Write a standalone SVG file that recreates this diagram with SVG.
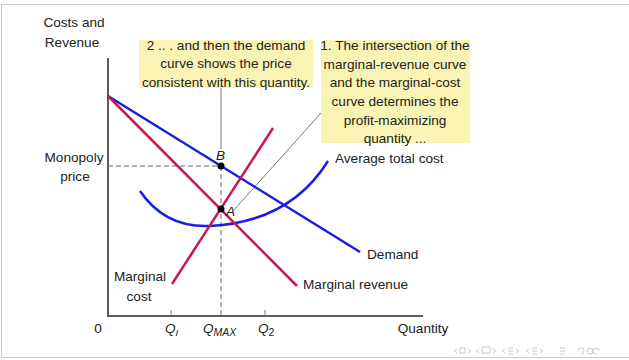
<svg xmlns="http://www.w3.org/2000/svg" width="629" height="360" viewBox="0 0 629 360">
  <style>
    text { font-family: "Liberation Sans", "DejaVu Sans", sans-serif; font-size: 13.6px; fill: #222; }
    .mid { text-anchor: middle; }
    .it { font-style: italic; }
    .axis { stroke: #5a5a5a; stroke-width: 2; fill: none; }
    .blue { stroke: #1c1ce8; stroke-width: 2.5; fill: none; }
    .red { stroke: #c8184c; stroke-width: 2.5; fill: none; }
    .dash { stroke: #666; stroke-width: 1; stroke-dasharray: 5 3; fill: none; }
    .lead { stroke: #555; stroke-width: 0.8; fill: none; }
    .note { fill: #faf4b4; }
    .nav { stroke: #c8c8e0; stroke-width: 1; fill: none; }
  </style>

  <!-- slide frame -->
  <rect x="1.5" y="4.5" width="640" height="353" fill="#fff" stroke="#cccccc" stroke-width="1"/>

  <!-- axes -->
  <g id="axes">
    <path class="axis" d="M108 58 V316 H423"/>
    <line x1="171" y1="310" x2="171" y2="316" stroke="#777" stroke-width="1"/>
    <line x1="265" y1="310" x2="265" y2="316" stroke="#777" stroke-width="1"/>
    <text x="74" y="27" class="mid">Costs and</text>
    <text x="72" y="47" class="mid">Revenue</text>
    <text x="74" y="162" class="mid">Monopoly</text>
    <text x="75" y="181" class="mid">price</text>
    <text x="98" y="333" class="mid">0</text>
    <text x="423" y="333" class="mid">Quantity</text>
    <text x="165" y="333" class="it">Q<tspan font-size="9.5" dy="3">I</tspan></text>
    <text x="203" y="333" class="it">Q<tspan font-size="10.5" dy="3">MAX</tspan></text>
    <text x="258" y="333" class="it">Q<tspan font-size="10.5" dy="3" font-style="normal">2</tspan></text>
  </g>

  <!-- connectors: guide lines and leaders -->
  <g id="connectors">
    <line class="dash" x1="108" y1="166" x2="221" y2="166"/>
    <line class="dash" x1="221" y1="166" x2="221" y2="316"/>
    <line class="lead" x1="221" y1="88" x2="221" y2="149"/>
    <line class="lead" x1="233" y1="211" x2="321" y2="113"/>
  </g>

  <!-- curves -->
  <g id="curve-atc">
    <path class="blue" d="M140 191 Q 165 228 210 226 Q 290 222 328 161"/>
    <text x="335" y="163">Average total cost</text>
  </g>
  <g id="curve-demand">
    <line class="blue" x1="108" y1="96" x2="360" y2="252"/>
    <text x="367" y="259">Demand</text>
  </g>
  <g id="curve-mr">
    <line class="red" x1="108" y1="96" x2="297" y2="286"/>
    <text x="303" y="289">Marginal revenue</text>
  </g>
  <g id="curve-mc">
    <line class="red" x1="172" y1="284" x2="273" y2="128"/>
    <text x="140" y="281" class="mid">Marginal</text>
    <text x="139" y="301" class="mid">cost</text>
  </g>

  <!-- points -->
  <g id="point-b">
    <circle cx="221" cy="166" r="3.5" fill="#000"/>
    <text x="216" y="160" class="it" font-size="14.5">B</text>
  </g>
  <g id="point-a">
    <circle cx="221" cy="209" r="3.5" fill="#000"/>
    <text x="226" y="216" class="it" font-size="14.5">A</text>
  </g>

  <!-- notes -->
  <g id="note-2">
    <rect class="note" x="139" y="40" width="174" height="48"/>
    <text x="226" y="50" class="mid">2 .. . and then the demand</text>
    <text x="226" y="68" class="mid">curve shows the price</text>
    <text x="226" y="87" class="mid">consistent with this quantity.</text>
  </g>
  <g id="note-1">
    <rect class="note" x="321" y="40" width="149" height="103"/>
    <text x="395" y="50" class="mid">1. The intersection of the</text>
    <text x="395" y="69" class="mid">marginal-revenue curve</text>
    <text x="395" y="87" class="mid">and the marginal-cost</text>
    <text x="395" y="106" class="mid">curve determines the</text>
    <text x="395" y="125" class="mid">profit-maximizing</text>
    <text x="395" y="143" class="mid">quantity ...</text>
  </g>

  <!-- navigation symbols -->
  <g id="nav">
    <path class="nav" d="M457 349 l-3 2 l3 2"/><rect class="nav" x="460" y="348" width="5" height="5"/><path class="nav" d="M468 349 l3 2 l-3 2"/>
    <path class="nav" d="M479 349 l-3 2 l3 2"/><rect class="nav" x="482" y="347" width="8" height="6"/><path class="nav" d="M493 349 l3 2 l-3 2"/>
    <path class="nav" d="M505 349 l-3 2 l3 2"/><path class="nav" d="M508 348 h5 M508 351 h5 M508 354 h5"/><path class="nav" d="M516 349 l3 2 l-3 2"/>
    <path class="nav" d="M529 349 l-3 2 l3 2"/><path class="nav" d="M532 348 h5 M532 351 h5 M532 354 h5"/><path class="nav" d="M540 349 l3 2 l-3 2"/>
    <path class="nav" d="M560 348 h5 M560 351 h5 M560 354 h5"/>
    <path class="nav" d="M578 351 a3 3 0 1 1 3 3 M587 351 a3 3 0 1 0 6 0 a3 3 0 1 0 -6 0 M596 354 a3 3 0 1 1 3 -3"/>
  </g>
</svg>
